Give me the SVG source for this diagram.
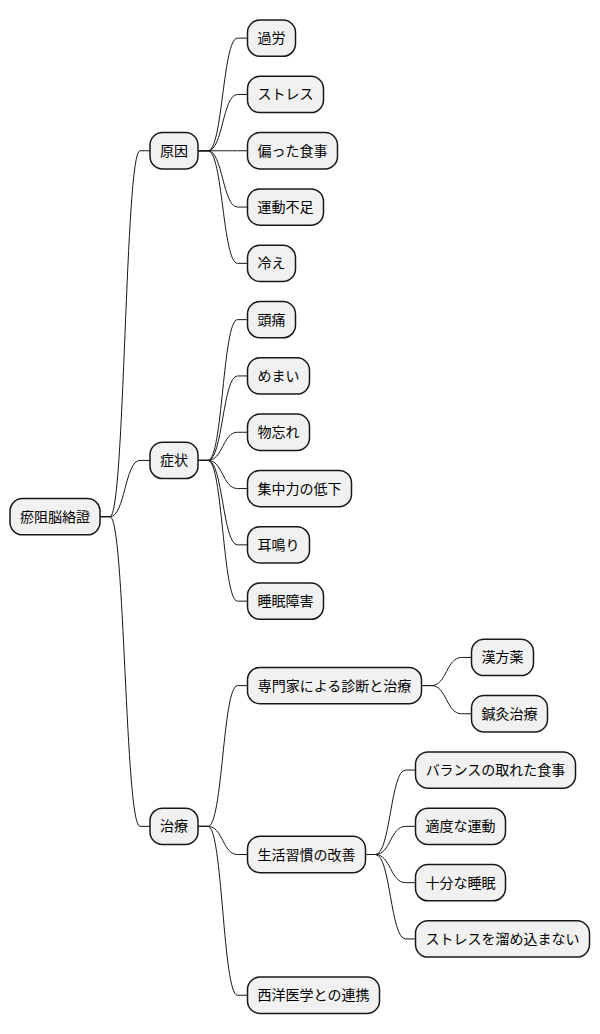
<svg xmlns="http://www.w3.org/2000/svg" width="600" height="1034" viewBox="0 0 600 1034">
<style>
.n rect{fill:#F1F1F1;stroke:#181818;stroke-width:1.5}
.n text{font-family:"Noto Sans CJK JP","Noto Sans",sans-serif;font-size:14px;fill:#000;text-anchor:middle}
#connectors path{fill:none;stroke:#181818;stroke-width:1}
</style>
<rect width="600" height="1034" fill="#FFFFFF"/>
<g id="connectors">
<path d="M100,516.7 H110 C125,516.7 125,150.75 140,150.75 H150"/>
<path d="M100,516.7 H110 C125,516.7 125,460.4 140,460.4 H150"/>
<path d="M100,516.7 H110 C125,516.7 125,826.35 140,826.35 H150"/>
<path d="M198,150.75 H208 C222.75,150.75 222.75,38.15 237.5,38.15 H247.5"/>
<path d="M198,150.75 H208 C222.75,150.75 222.75,94.45 237.5,94.45 H247.5"/>
<path d="M198,150.75 H208 C222.75,150.75 222.75,150.75 237.5,150.75 H247.5"/>
<path d="M198,150.75 H208 C222.75,150.75 222.75,207.05 237.5,207.05 H247.5"/>
<path d="M198,150.75 H208 C222.75,150.75 222.75,263.35 237.5,263.35 H247.5"/>
<path d="M198,460.4 H208 C222.75,460.4 222.75,319.65 237.5,319.65 H247.5"/>
<path d="M198,460.4 H208 C222.75,460.4 222.75,375.95 237.5,375.95 H247.5"/>
<path d="M198,460.4 H208 C222.75,460.4 222.75,432.25 237.5,432.25 H247.5"/>
<path d="M198,460.4 H208 C222.75,460.4 222.75,488.55 237.5,488.55 H247.5"/>
<path d="M198,460.4 H208 C222.75,460.4 222.75,544.85 237.5,544.85 H247.5"/>
<path d="M198,460.4 H208 C222.75,460.4 222.75,601.15 237.5,601.15 H247.5"/>
<path d="M198,826.35 H208 C222.75,826.35 222.75,685.6 237.5,685.6 H247.5"/>
<path d="M198,826.35 H208 C222.75,826.35 222.75,854.5 237.5,854.5 H247.5"/>
<path d="M198,826.35 H208 C222.75,826.35 222.75,995.25 237.5,995.25 H247.5"/>
<path d="M421.5,685.6 H431.5 C446.5,685.6 446.5,657.45 461.5,657.45 H471.5"/>
<path d="M421.5,685.6 H431.5 C446.5,685.6 446.5,713.75 461.5,713.75 H471.5"/>
<path d="M365.5,854.5 H375.5 C390.5,854.5 390.5,770.05 405.5,770.05 H415.5"/>
<path d="M365.5,854.5 H375.5 C390.5,854.5 390.5,826.35 405.5,826.35 H415.5"/>
<path d="M365.5,854.5 H375.5 C390.5,854.5 390.5,882.65 405.5,882.65 H415.5"/>
<path d="M365.5,854.5 H375.5 C390.5,854.5 390.5,938.95 405.5,938.95 H415.5"/>
</g>
<g id="root" class="n"><rect x="10" y="498.55" width="90" height="36.3" rx="12.5"/><text x="55" y="521.7">瘀阻脳絡證</text></g>
<g id="cause" class="n"><rect x="150" y="132.6" width="48" height="36.3" rx="12.5"/><text x="174" y="155.75">原因</text></g>
<g id="symptom" class="n"><rect x="150" y="442.25" width="48" height="36.3" rx="12.5"/><text x="174" y="465.4">症状</text></g>
<g id="treatment" class="n"><rect x="150" y="808.2" width="48" height="36.3" rx="12.5"/><text x="174" y="831.35">治療</text></g>
<g id="c1" class="n"><rect x="247.5" y="20" width="48" height="36.3" rx="12.5"/><text x="271.5" y="43.15">過労</text></g>
<g id="c2" class="n"><rect x="247.5" y="76.3" width="76" height="36.3" rx="12.5"/><text x="285.5" y="99.45">ストレス</text></g>
<g id="c3" class="n"><rect x="247.5" y="132.6" width="90" height="36.3" rx="12.5"/><text x="292.5" y="155.75">偏った食事</text></g>
<g id="c4" class="n"><rect x="247.5" y="188.9" width="76" height="36.3" rx="12.5"/><text x="285.5" y="212.05">運動不足</text></g>
<g id="c5" class="n"><rect x="247.5" y="245.2" width="48" height="36.3" rx="12.5"/><text x="271.5" y="268.35">冷え</text></g>
<g id="s1" class="n"><rect x="247.5" y="301.5" width="48" height="36.3" rx="12.5"/><text x="271.5" y="324.65">頭痛</text></g>
<g id="s2" class="n"><rect x="247.5" y="357.8" width="62" height="36.3" rx="12.5"/><text x="278.5" y="380.95">めまい</text></g>
<g id="s3" class="n"><rect x="247.5" y="414.1" width="62" height="36.3" rx="12.5"/><text x="278.5" y="437.25">物忘れ</text></g>
<g id="s4" class="n"><rect x="247.5" y="470.4" width="104" height="36.3" rx="12.5"/><text x="299.5" y="493.55">集中力の低下</text></g>
<g id="s5" class="n"><rect x="247.5" y="526.7" width="62" height="36.3" rx="12.5"/><text x="278.5" y="549.85">耳鳴り</text></g>
<g id="s6" class="n"><rect x="247.5" y="583" width="76" height="36.3" rx="12.5"/><text x="285.5" y="606.15">睡眠障害</text></g>
<g id="t1" class="n"><rect x="247.5" y="667.45" width="174" height="36.3" rx="12.5"/><text x="334.5" y="690.6">専門家による診断と治療</text></g>
<g id="t2" class="n"><rect x="247.5" y="836.35" width="118" height="36.3" rx="12.5"/><text x="306.5" y="859.5">生活習慣の改善</text></g>
<g id="t3" class="n"><rect x="247.5" y="977.1" width="132" height="36.3" rx="12.5"/><text x="313.5" y="1000.25">西洋医学との連携</text></g>
<g id="t1a" class="n"><rect x="471.5" y="639.3" width="62" height="36.3" rx="12.5"/><text x="502.5" y="662.45">漢方薬</text></g>
<g id="t1b" class="n"><rect x="471.5" y="695.6" width="76" height="36.3" rx="12.5"/><text x="509.5" y="718.75">鍼灸治療</text></g>
<g id="t2a" class="n"><rect x="415.5" y="751.9" width="160" height="36.3" rx="12.5"/><text x="495.5" y="775.05">バランスの取れた食事</text></g>
<g id="t2b" class="n"><rect x="415.5" y="808.2" width="90" height="36.3" rx="12.5"/><text x="460.5" y="831.35">適度な運動</text></g>
<g id="t2c" class="n"><rect x="415.5" y="864.5" width="90" height="36.3" rx="12.5"/><text x="460.5" y="887.65">十分な睡眠</text></g>
<g id="t2d" class="n"><rect x="415.5" y="920.8" width="174" height="36.3" rx="12.5"/><text x="502.5" y="943.95">ストレスを溜め込まない</text></g>
</svg>
